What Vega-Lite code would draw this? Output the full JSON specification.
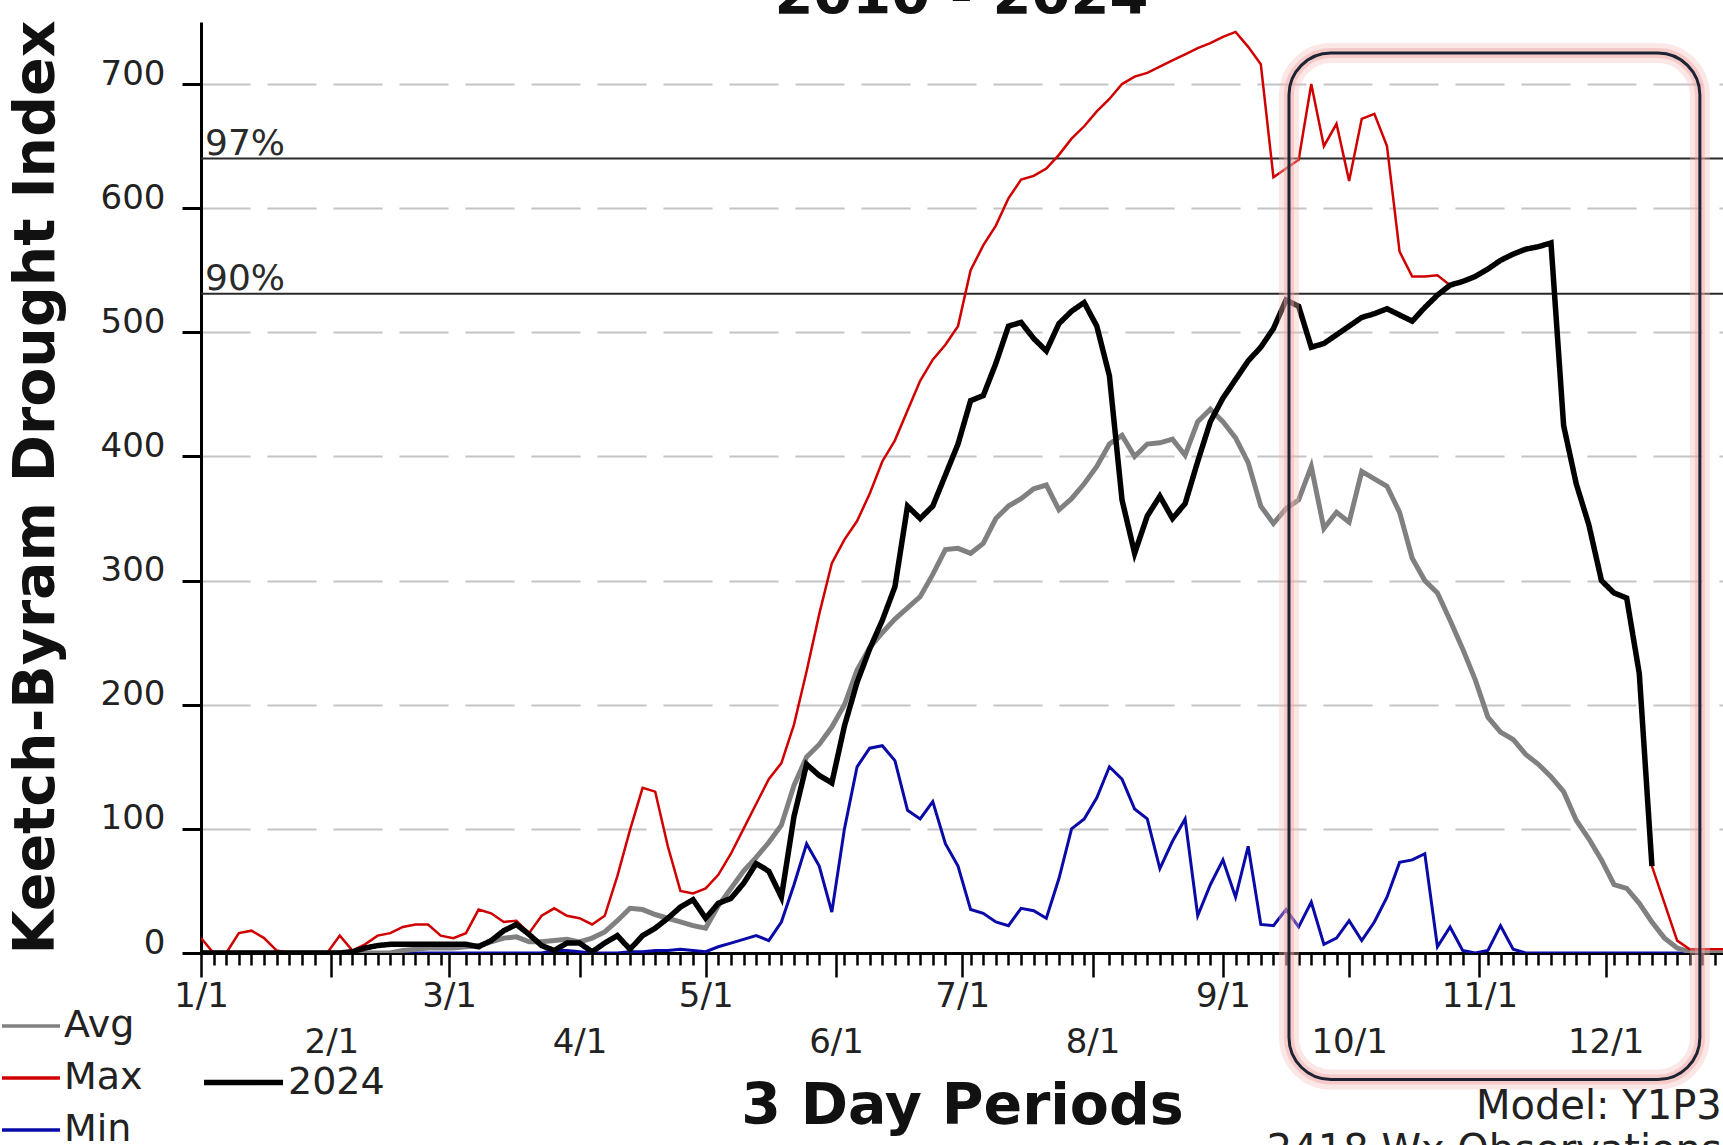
{
  "$schema": "https://vega.github.io/schema/vega-lite/v6.json",
  "autosize": {"type": "none"},
  "width": 1522,
  "height": 931,
  "padding": {"left": 201, "top": 22, "right": 0, "bottom": 192},
  "background": "white",
  "config": {"view": {"stroke": null}, "font": "DejaVu Sans"},
  "datasets": {
    "kbdi": [
      {"day":1,"Avg":0,"Max":12,"Min":0,"y2024":0},
      {"day":4,"Avg":0,"Max":0,"Min":0,"y2024":0},
      {"day":7,"Avg":0,"Max":0,"Min":0,"y2024":0},
      {"day":10,"Avg":0,"Max":16,"Min":0,"y2024":0},
      {"day":13,"Avg":0,"Max":18,"Min":0,"y2024":0},
      {"day":16,"Avg":0,"Max":12,"Min":0,"y2024":0},
      {"day":19,"Avg":0,"Max":2,"Min":0,"y2024":0},
      {"day":22,"Avg":0,"Max":0,"Min":0,"y2024":0},
      {"day":25,"Avg":0,"Max":0,"Min":0,"y2024":0},
      {"day":28,"Avg":0,"Max":0,"Min":0,"y2024":0},
      {"day":31,"Avg":0,"Max":0,"Min":0,"y2024":0},
      {"day":34,"Avg":0,"Max":14,"Min":0,"y2024":0},
      {"day":37,"Avg":0,"Max":2,"Min":0,"y2024":1},
      {"day":40,"Avg":0,"Max":7,"Min":0,"y2024":4},
      {"day":43,"Avg":0,"Max":14,"Min":0,"y2024":6},
      {"day":46,"Avg":0,"Max":16,"Min":0,"y2024":7},
      {"day":49,"Avg":2,"Max":21,"Min":0,"y2024":7},
      {"day":52,"Avg":3,"Max":23,"Min":0,"y2024":7},
      {"day":55,"Avg":4,"Max":23,"Min":0,"y2024":7},
      {"day":58,"Avg":4,"Max":14,"Min":0,"y2024":7},
      {"day":61,"Avg":4,"Max":12,"Min":0,"y2024":7},
      {"day":64,"Avg":5,"Max":16,"Min":0,"y2024":7},
      {"day":67,"Avg":6,"Max":35,"Min":0,"y2024":5},
      {"day":70,"Avg":9,"Max":32,"Min":0,"y2024":10},
      {"day":73,"Avg":12,"Max":25,"Min":0,"y2024":18},
      {"day":76,"Avg":13,"Max":26,"Min":0,"y2024":23},
      {"day":79,"Avg":9,"Max":16,"Min":0,"y2024":15},
      {"day":82,"Avg":9,"Max":30,"Min":0,"y2024":6},
      {"day":85,"Avg":10,"Max":36,"Min":2,"y2024":2},
      {"day":88,"Avg":11,"Max":30,"Min":2,"y2024":8},
      {"day":91,"Avg":9,"Max":28,"Min":1,"y2024":8},
      {"day":94,"Avg":12,"Max":23,"Min":0,"y2024":1},
      {"day":97,"Avg":17,"Max":30,"Min":0,"y2024":8},
      {"day":100,"Avg":26,"Max":62,"Min":0,"y2024":14},
      {"day":103,"Avg":36,"Max":99,"Min":1,"y2024":3},
      {"day":106,"Avg":35,"Max":133,"Min":1,"y2024":14},
      {"day":109,"Avg":31,"Max":130,"Min":2,"y2024":20},
      {"day":112,"Avg":28,"Max":86,"Min":2,"y2024":28},
      {"day":115,"Avg":25,"Max":50,"Min":3,"y2024":37},
      {"day":118,"Avg":22,"Max":48,"Min":2,"y2024":43},
      {"day":121,"Avg":20,"Max":52,"Min":1,"y2024":28},
      {"day":124,"Avg":38,"Max":63,"Min":5,"y2024":40},
      {"day":127,"Avg":52,"Max":80,"Min":8,"y2024":44},
      {"day":130,"Avg":66,"Max":100,"Min":11,"y2024":56},
      {"day":133,"Avg":77,"Max":120,"Min":14,"y2024":72},
      {"day":136,"Avg":89,"Max":140,"Min":10,"y2024":66},
      {"day":139,"Avg":103,"Max":153,"Min":25,"y2024":45},
      {"day":142,"Avg":135,"Max":184,"Min":55,"y2024":110},
      {"day":145,"Avg":158,"Max":227,"Min":88,"y2024":152},
      {"day":148,"Avg":168,"Max":273,"Min":70,"y2024":143},
      {"day":151,"Avg":182,"Max":314,"Min":33,"y2024":137},
      {"day":154,"Avg":200,"Max":333,"Min":100,"y2024":183},
      {"day":157,"Avg":228,"Max":348,"Min":150,"y2024":218},
      {"day":160,"Avg":246,"Max":370,"Min":165,"y2024":245},
      {"day":163,"Avg":258,"Max":396,"Min":167,"y2024":268},
      {"day":166,"Avg":269,"Max":413,"Min":155,"y2024":295},
      {"day":169,"Avg":278,"Max":437,"Min":115,"y2024":360},
      {"day":172,"Avg":287,"Max":461,"Min":108,"y2024":350},
      {"day":175,"Avg":305,"Max":478,"Min":122,"y2024":360},
      {"day":178,"Avg":325,"Max":490,"Min":88,"y2024":385},
      {"day":181,"Avg":326,"Max":505,"Min":70,"y2024":410},
      {"day":184,"Avg":322,"Max":550,"Min":35,"y2024":445},
      {"day":187,"Avg":330,"Max":570,"Min":32,"y2024":449},
      {"day":190,"Avg":350,"Max":586,"Min":25,"y2024":475},
      {"day":193,"Avg":360,"Max":608,"Min":22,"y2024":505},
      {"day":196,"Avg":366,"Max":623,"Min":36,"y2024":508},
      {"day":199,"Avg":374,"Max":626,"Min":34,"y2024":495},
      {"day":202,"Avg":377,"Max":632,"Min":28,"y2024":485},
      {"day":205,"Avg":357,"Max":643,"Min":60,"y2024":507},
      {"day":208,"Avg":366,"Max":656,"Min":100,"y2024":517},
      {"day":211,"Avg":378,"Max":666,"Min":108,"y2024":524},
      {"day":214,"Avg":392,"Max":678,"Min":125,"y2024":505},
      {"day":217,"Avg":410,"Max":688,"Min":150,"y2024":465},
      {"day":220,"Avg":417,"Max":700,"Min":140,"y2024":365},
      {"day":223,"Avg":400,"Max":706,"Min":116,"y2024":322},
      {"day":226,"Avg":410,"Max":709,"Min":108,"y2024":352},
      {"day":229,"Avg":411,"Max":714,"Min":68,"y2024":368},
      {"day":232,"Avg":414,"Max":719,"Min":90,"y2024":350},
      {"day":235,"Avg":401,"Max":724,"Min":108,"y2024":362},
      {"day":238,"Avg":428,"Max":729,"Min":30,"y2024":396},
      {"day":241,"Avg":438,"Max":733,"Min":55,"y2024":428},
      {"day":244,"Avg":428,"Max":738,"Min":75,"y2024":447},
      {"day":247,"Avg":415,"Max":742,"Min":45,"y2024":462},
      {"day":250,"Avg":395,"Max":730,"Min":86,"y2024":477},
      {"day":253,"Avg":360,"Max":716,"Min":23,"y2024":488},
      {"day":256,"Avg":346,"Max":625,"Min":22,"y2024":503},
      {"day":259,"Avg":358,"Max":632,"Min":35,"y2024":526},
      {"day":262,"Avg":365,"Max":639,"Min":21,"y2024":521},
      {"day":265,"Avg":392,"Max":700,"Min":41,"y2024":488},
      {"day":268,"Avg":342,"Max":650,"Min":7,"y2024":491},
      {"day":271,"Avg":355,"Max":668,"Min":12,"y2024":498},
      {"day":274,"Avg":347,"Max":622,"Min":26,"y2024":505},
      {"day":277,"Avg":388,"Max":672,"Min":10,"y2024":512},
      {"day":280,"Avg":382,"Max":676,"Min":25,"y2024":515},
      {"day":283,"Avg":376,"Max":650,"Min":45,"y2024":519},
      {"day":286,"Avg":355,"Max":565,"Min":73,"y2024":514},
      {"day":289,"Avg":318,"Max":545,"Min":75,"y2024":509},
      {"day":292,"Avg":300,"Max":545,"Min":80,"y2024":520},
      {"day":295,"Avg":290,"Max":546,"Min":5,"y2024":530},
      {"day":298,"Avg":268,"Max":538,"Min":21,"y2024":538},
      {"day":301,"Avg":245,"Max":541,"Min":2,"y2024":541},
      {"day":304,"Avg":220,"Max":545,"Min":0,"y2024":545},
      {"day":307,"Avg":190,"Max":551,"Min":2,"y2024":551},
      {"day":310,"Avg":178,"Max":558,"Min":22,"y2024":558},
      {"day":313,"Avg":172,"Max":563,"Min":3,"y2024":563},
      {"day":316,"Avg":160,"Max":567,"Min":0,"y2024":567},
      {"day":319,"Avg":152,"Max":569,"Min":0,"y2024":569},
      {"day":322,"Avg":142,"Max":572,"Min":0,"y2024":572},
      {"day":325,"Avg":130,"Max":425,"Min":0,"y2024":425},
      {"day":328,"Avg":107,"Max":378,"Min":0,"y2024":378},
      {"day":331,"Avg":92,"Max":345,"Min":0,"y2024":345},
      {"day":334,"Avg":75,"Max":300,"Min":0,"y2024":300},
      {"day":337,"Avg":55,"Max":290,"Min":0,"y2024":290},
      {"day":340,"Avg":52,"Max":286,"Min":0,"y2024":286},
      {"day":343,"Avg":40,"Max":225,"Min":0,"y2024":225},
      {"day":346,"Avg":25,"Max":70,"Min":0,"y2024":70},
      {"day":349,"Avg":12,"Max":40,"Min":0,"y2024":null},
      {"day":352,"Avg":4,"Max":10,"Min":0,"y2024":null},
      {"day":355,"Avg":1,"Max":3,"Min":0,"y2024":null},
      {"day":358,"Avg":0,"Max":3,"Min":0,"y2024":null},
      {"day":361,"Avg":0,"Max":3,"Min":0,"y2024":null},
      {"day":364,"Avg":0,"Max":3,"Min":0,"y2024":null}
    ],
    "thresholds": [
      {"label": "97%", "value": 640},
      {"label": "90%", "value": 531}
    ]
  },
  "layer": [
    {
      "data": {"name": "thresholds"},
      "mark": {"type": "rule", "color": "#2a2a2a", "strokeWidth": 2},
      "encoding": {
        "y": {"field": "value", "type": "quantitative", "title": "Keetch-Byram Drought Index", "scale": {"domain": [0, 750], "nice": false, "zero": false}}
      }
    },
    {
      "data": {"name": "thresholds"},
      "mark": {"type": "text", "align": "left", "baseline": "alphabetic", "dx": 4, "dy": -4, "font": "DejaVu Sans", "fontSize": 36, "color": "#2a2a2a"},
      "encoding": {
        "x": {"datum": 1, "type": "quantitative", "title": "3 Day Periods", "scale": {"domain": [1, 362.9], "nice": false, "zero": false}},
        "y": {"field": "value", "type": "quantitative", "title": "Keetch-Byram Drought Index", "scale": {"domain": [0, 750], "nice": false, "zero": false}},
        "text": {"field": "label"}
      }
    },
    {
      "data": {"name": "kbdi"},
      "mark": {"type": "line", "strokeWidth": 3, "clip": true},
      "encoding": {
        "x": {"field": "day", "type": "quantitative", "title": "3 Day Periods",
          "scale": {"domain": [1, 362.9], "nice": false, "zero": false},
          "axis": {
            "values": [1,4,7,10,13,16,19,22,25,28,32,34,37,40,43,46,49,52,55,58,60,64,67,70,73,76,79,82,85,88,91,94,97,100,103,106,109,112,115,118,121,124,127,130,133,136,139,142,145,148,152,154,157,160,163,166,169,172,175,178,182,184,187,190,193,196,199,202,205,208,211,213,217,220,223,226,229,232,235,238,241,244,247,250,253,256,259,262,265,268,271,274,277,280,283,286,289,292,295,298,301,305,307,310,313,316,319,322,325,328,331,335,337,340,343,346,349,352,355,358,361],
            "tickCount": 1000,
            "labelExpr": "indexof([1,32,60,91,121,152,182,213,244,274,305,335], datum.value) >= 0 ? (indexof([1,32,60,91,121,152,182,213,244,274,305,335], datum.value) + 1) + '/1' : ''",
            "labelFont": "DejaVu Sans", "labelFontSize": 34, "labelColor": "#222",
            "labelOverlap": false, "labelFlush": false, "labelBound": false,
            "labelBaseline": "top",
            "labelPadding": {"condition": {"test": "indexof([32,91,152,213,274,335], datum.value) >= 0", "value": 48}, "value": 2},
            "tickSize": {"condition": {"test": "indexof([1,32,60,91,121,152,182,213,244,274,305,335], datum.value) >= 0", "value": 24}, "value": 12},
            "tickWidth": 2.5, "tickColor": "black",
            "domainColor": "black", "domainWidth": 3,
            "grid": false,
            "titleFont": "DejaVu Sans", "titleFontSize": 57, "titleFontWeight": "bold", "titleColor": "#111",
            "titleX": 761, "titleY": 170, "titleAlign": "center", "titleBaseline": "alphabetic"
          }
        },
        "y": {"field": "Min", "type": "quantitative", "title": "Keetch-Byram Drought Index",
          "scale": {"domain": [0, 750], "nice": false, "zero": false},
          "axis": {
            "values": [0,100,200,300,400,500,600,700],
            "grid": true, "gridDash": [49, 17], "gridColor": "#c4c4c4", "gridWidth": 2,
            "domainColor": "black", "domainWidth": 3,
            "tickSize": 19, "tickWidth": 3, "tickColor": "black",
            "labelFont": "DejaVu Sans", "labelFontSize": 34, "labelColor": "#222", "labelPadding": 17, "labelBaseline": "alphabetic",
            "titleFont": "DejaVu Sans", "titleFontSize": 57, "titleFontWeight": "bold", "titleColor": "#111",
            "titleAngle": 270, "titleX": -148, "titleY": 465, "titleAlign": "center", "titleBaseline": "alphabetic"
          }
        },
        "color": {"datum": "Min",
          "scale": {"domain": ["Avg", "Max", "Min"], "range": ["#808080", "#d00000", "#0a0aa8"]},
          "legend": {"title": null, "orient": "none", "legendX": -201, "legendY": 973, "direction": "vertical",
            "symbolType": "stroke", "symbolSize": 3364, "symbolStrokeWidth": 3.5,
            "labelFont": "DejaVu Sans", "labelFontSize": 38, "labelColor": "#222", "labelOffset": 2,
            "rowPadding": 2, "padding": 0
          }
        }
      }
    },
    {
      "data": {"name": "kbdi"},
      "mark": {"type": "line", "strokeWidth": 5, "clip": true},
      "encoding": {
        "x": {"field": "day", "type": "quantitative", "title": "3 Day Periods", "scale": {"domain": [1, 362.9], "nice": false, "zero": false}},
        "y": {"field": "Avg", "type": "quantitative", "title": "Keetch-Byram Drought Index", "scale": {"domain": [0, 750], "nice": false, "zero": false}},
        "color": {"datum": "Avg"}
      }
    },
    {
      "data": {"name": "kbdi"},
      "mark": {"type": "line", "strokeWidth": 2.5, "clip": true},
      "encoding": {
        "x": {"field": "day", "type": "quantitative", "title": "3 Day Periods", "scale": {"domain": [1, 362.9], "nice": false, "zero": false}},
        "y": {"field": "Max", "type": "quantitative", "title": "Keetch-Byram Drought Index", "scale": {"domain": [0, 750], "nice": false, "zero": false}},
        "color": {"datum": "Max"}
      }
    },
    {
      "data": {"name": "kbdi"},
      "mark": {"type": "line", "strokeWidth": 5.5, "color": "black", "clip": true},
      "encoding": {
        "x": {"field": "day", "type": "quantitative", "title": "3 Day Periods", "scale": {"domain": [1, 362.9], "nice": false, "zero": false}},
        "y": {"field": "y2024", "type": "quantitative", "title": "Keetch-Byram Drought Index", "scale": {"domain": [0, 750], "nice": false, "zero": false}},
        "strokeDash": {"datum": "2024",
          "scale": {"domain": ["2024"], "range": [[1, 0]]},
          "legend": {"title": null, "orient": "none", "legendX": 0, "legendY": 1018,
            "symbolType": "stroke", "symbolSize": 6241, "symbolStrokeColor": "black", "symbolStrokeWidth": 5.5,
            "labelFont": "DejaVu Sans", "labelFontSize": 38, "labelColor": "#222", "labelOffset": 2, "padding": 0}
        }
      }
    },
    {
      "data": {"values": [{}]},
      "mark": {"type": "rect", "cornerRadius": 42, "fillOpacity": 0, "stroke": "#f6b9b9", "strokeWidth": 20, "strokeOpacity": 0.35},
      "encoding": {
        "x": {"datum": 259.7, "type": "quantitative", "scale": {"domain": [1, 362.9], "nice": false, "zero": false}},
        "x2": {"datum": 357.4},
        "y": {"datum": 725, "type": "quantitative", "scale": {"domain": [0, 750], "nice": false, "zero": false}},
        "y2": {"datum": -102}
      }
    },
    {
      "data": {"values": [{}]},
      "mark": {"type": "rect", "cornerRadius": 42, "fillOpacity": 0, "stroke": "#f0a0a0", "strokeWidth": 10, "strokeOpacity": 0.4},
      "encoding": {
        "x": {"datum": 259.7, "type": "quantitative", "scale": {"domain": [1, 362.9], "nice": false, "zero": false}},
        "x2": {"datum": 357.4},
        "y": {"datum": 725, "type": "quantitative", "scale": {"domain": [0, 750], "nice": false, "zero": false}},
        "y2": {"datum": -102}
      }
    },
    {
      "data": {"values": [{}]},
      "mark": {"type": "rect", "cornerRadius": 42, "fillOpacity": 0, "stroke": "#1c2433", "strokeWidth": 3},
      "encoding": {
        "x": {"datum": 259.7, "type": "quantitative", "scale": {"domain": [1, 362.9], "nice": false, "zero": false}},
        "x2": {"datum": 357.4},
        "y": {"datum": 725, "type": "quantitative", "scale": {"domain": [0, 750], "nice": false, "zero": false}},
        "y2": {"datum": -102}
      }
    },
    {
      "data": {"values": [{}]},
      "mark": {"type": "text", "text": "2010 - 2024", "align": "center", "baseline": "alphabetic", "font": "DejaVu Sans", "fontSize": 56, "fontWeight": "bold", "color": "#111"},
      "encoding": {
        "x": {"datum": 181.8, "type": "quantitative", "scale": {"domain": [1, 362.9], "nice": false, "zero": false}},
        "y": {"datum": 757.3, "type": "quantitative", "scale": {"domain": [0, 750], "nice": false, "zero": false}}
      }
    },
    {
      "data": {"values": [{}]},
      "mark": {"type": "text", "text": ["Model: Y1P3", "2418 Wx Observations"], "align": "right", "baseline": "alphabetic", "font": "DejaVu Sans", "fontSize": 40, "color": "#222", "lineHeight": 44},
      "encoding": {
        "x": {"datum": 362.6, "type": "quantitative", "scale": {"domain": [1, 362.9], "nice": false, "zero": false}},
        "y": {"datum": -133.7, "type": "quantitative", "scale": {"domain": [0, 750], "nice": false, "zero": false}}
      }
    }
  ]
}
